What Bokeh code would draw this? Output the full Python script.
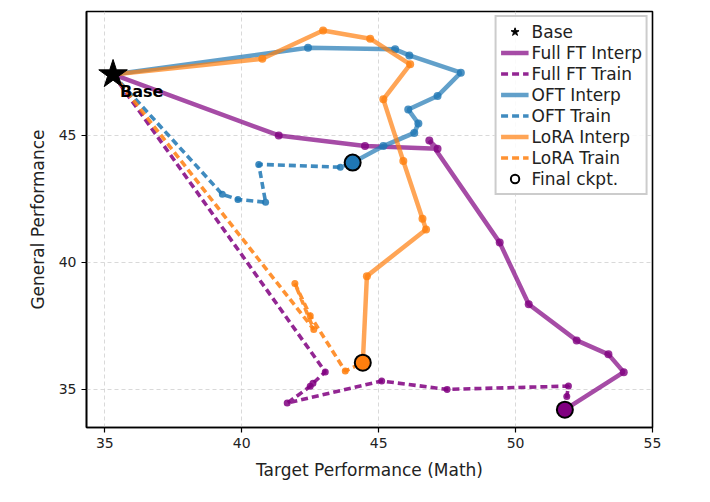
from bokeh.plotting import figure
from bokeh.models import FixedTicker, Legend, LegendItem, Range1d
from bokeh.core.properties import value
from bokeh.embed import file_html
from bokeh.resources import INLINE

FONT = "DejaVu Sans"

# ---- data ----
base_x = [35.3]
base_y = [47.4]

fullft_interp_x = [35.3, 41.35, 44.5, 47.15, 46.85, 49.42, 50.48, 52.23, 53.39, 53.95, 51.8]
fullft_interp_y = [47.4, 45.0, 44.58, 44.48, 44.8, 40.78, 38.35, 36.93, 36.38, 35.68, 34.2]
fullft_train_x = [35.3, 43.05, 42.6, 42.5, 41.66, 45.11, 47.5, 51.93, 51.87, 51.8]
fullft_train_y = [47.4, 35.69, 35.24, 35.12, 34.46, 35.33, 35.0, 35.13, 34.72, 34.2]

oft_interp_x = [35.3, 42.42, 45.6, 46.12, 48.0, 47.15, 46.08, 46.45, 46.3, 45.17, 44.05]
oft_interp_y = [47.4, 48.45, 48.39, 48.15, 47.47, 46.55, 46.02, 45.47, 45.1, 44.58, 43.93]
oft_train_x = [35.3, 39.29, 39.86, 40.87, 40.62, 43.6, 44.05]
oft_train_y = [47.4, 42.68, 42.48, 42.37, 43.86, 43.75, 43.93]

lora_interp_x = [35.3, 40.75, 42.97, 44.69, 46.15, 45.17, 45.9, 46.6, 46.73, 44.57, 44.42]
lora_interp_y = [47.4, 48.02, 49.13, 48.81, 47.8, 46.42, 43.99, 41.72, 41.3, 39.46, 36.05]
lora_train_x = [35.3, 42.63, 41.94, 42.5, 43.78, 44.42]
lora_train_y = [47.4, 37.36, 39.17, 37.9, 35.72, 36.05]

x_ticks = [35, 40, 45, 50, 55]
y_ticks = [35, 40, 45]

PURPLE = "#800080"
BLUE = "#1f77b4"
ORANGE = "#ff7f0e"

p = figure(frame_width=566, frame_height=416,
           x_range=Range1d(34.33, 55.0), y_range=Range1d(33.5, 49.88),
           output_backend="svg", toolbar_location=None,
           min_border_left=86, min_border_top=11, min_border_right=42, min_border_bottom=60)

p.background_fill_color = "white"
p.outline_line_color = "black"
p.outline_line_width = 1.6
p.outline_line_alpha = 1.0

p.xaxis.ticker = FixedTicker(ticks=x_ticks)
p.yaxis.ticker = FixedTicker(ticks=y_ticks)
for ax in (p.xaxis, p.yaxis):
    ax.axis_line_color = "black"
    ax.axis_line_width = 1.6
    ax.major_tick_line_color = "black"
    ax.major_tick_line_width = 1.2
    ax.major_tick_out = 5
    ax.major_tick_in = 0
    ax.minor_tick_line_color = None
    ax.major_label_text_font = FONT
    ax.major_label_text_font_size = "14px"
    ax.major_label_text_color = "#222222"
    ax.axis_label_text_font = FONT
    ax.axis_label_text_font_size = "17px"
    ax.axis_label_text_font_style = "normal"
    ax.axis_label_text_color = "#222222"
p.xaxis.axis_label = "Target Performance (Math)"
p.yaxis.axis_label = "General Performance"
p.xaxis.axis_label_standoff = 9
p.yaxis.axis_label_standoff = 8

p.grid.grid_line_color = "#d0d0d0"
p.grid.grid_line_dash = "4 3"
p.grid.grid_line_width = 1
p.grid.grid_line_alpha = 0.8


def series(xs, ys, color, interp):
    if interp:
        r = p.line(xs, ys, line_color=color, line_width=4.5, line_alpha=0.7)
        p.scatter(xs, ys, size=8, fill_color=color, line_color=color, fill_alpha=0.8, line_alpha=0.0)
    else:
        r = p.line(xs, ys, line_color=color, line_width=3.6, line_alpha=0.85, line_dash="7 4")
        p.scatter(xs, ys, size=7, fill_color=color, line_color=color, fill_alpha=0.85, line_alpha=0.0)
    return r


r_ff_i = series(fullft_interp_x, fullft_interp_y, PURPLE, True)
r_ff_t = series(fullft_train_x, fullft_train_y, PURPLE, False)
r_oft_i = series(oft_interp_x, oft_interp_y, BLUE, True)
r_oft_t = series(oft_train_x, oft_train_y, BLUE, False)
r_lo_i = series(lora_interp_x, lora_interp_y, ORANGE, True)
r_lo_t = series(lora_train_x, lora_train_y, ORANGE, False)

# final checkpoints
final_x = [fullft_interp_x[-1], oft_interp_x[-1], lora_interp_x[-1]]
final_y = [fullft_interp_y[-1], oft_interp_y[-1], lora_interp_y[-1]]
final_c = [PURPLE, BLUE, ORANGE]
p.scatter(final_x, final_y, size=16, fill_color=final_c, line_color="black", line_width=2)

# base star
r_base = p.scatter(base_x, base_y, marker="star", size=30, fill_color="black", line_color="black")
p.text(x=base_x, y=base_y, text=["Base"], x_offset=7, y_offset=8,
       text_font=value(FONT), text_font_size="16px", text_font_style="bold",
       text_baseline="top", text_align="left", text_color="black")

# dummy renderer for legend "Final ckpt."
r_final = p.scatter([float("nan")], [float("nan")], size=10, fill_color="white",
                    line_color="black", line_width=2)

legend = Legend(items=[
    LegendItem(label="Base", renderers=[r_base]),
    LegendItem(label="Full FT Interp", renderers=[r_ff_i]),
    LegendItem(label="Full FT Train", renderers=[r_ff_t]),
    LegendItem(label="OFT Interp", renderers=[r_oft_i]),
    LegendItem(label="OFT Train", renderers=[r_oft_t]),
    LegendItem(label="LoRA Interp", renderers=[r_lo_i]),
    LegendItem(label="LoRA Train", renderers=[r_lo_t]),
    LegendItem(label="Final ckpt.", renderers=[r_final]),
], location="top_right")
legend.margin = 4
legend.padding = 4
legend.spacing = 0
legend.glyph_width = 28
legend.glyph_height = 21
legend.label_height = 21
legend.label_standoff = 3
legend.label_text_font = FONT
legend.label_text_font_size = "17px"
legend.label_text_color = "#222222"
legend.border_line_color = "#cccccc"
legend.border_line_width = 2
legend.border_line_alpha = 1.0
legend.background_fill_alpha = 0.85
p.add_layout(legend)

open("out.html", "w").write(file_html(p, INLINE))
